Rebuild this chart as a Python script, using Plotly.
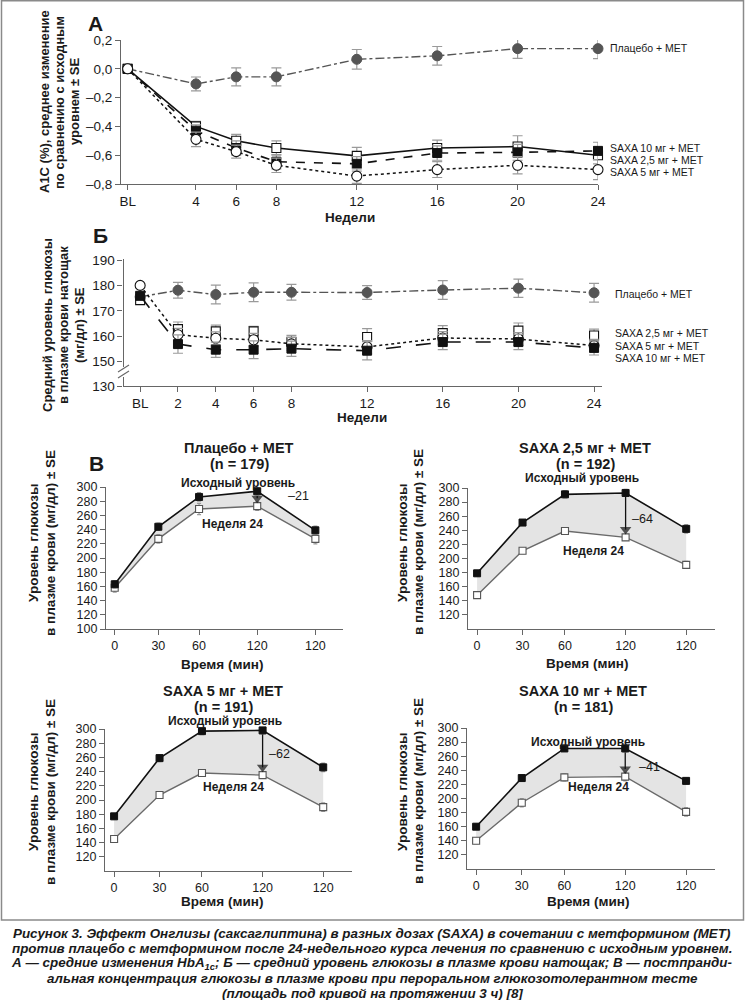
import plotly.graph_objects as go

W, H = 745, 1000

# ---------------- DATA ----------------
# Panel A: mean change in HbA1c (%) from baseline ± SE
weeks_a = [0, 4, 6, 8, 12, 16, 20, 24]          # 0 = BL
week_labels_a = ["BL", "4", "6", "8", "12", "16", "20", "24"]
a_placebo = [0, -0.105, -0.056, -0.056, 0.066, 0.09, 0.14, 0.14]
a_placebo_se = [0, 0.048, 0.063, 0.063, 0.068, 0.065, 0.068, 0.07]
a_saxa25 = [0, -0.40, -0.50, -0.55, -0.605, -0.55, -0.54, -0.60]
a_saxa25_se = [0, 0.035, 0.045, 0.05, 0.06, 0.055, 0.075, 0.06]
a_saxa5 = [0, -0.49, -0.575, -0.67, -0.745, -0.70, -0.67, -0.70]
a_saxa5_se = [0, 0.05, 0.045, 0.05, 0.05, 0.055, 0.06, 0.07]
a_saxa10 = [0, -0.43, -0.55, -0.645, -0.66, -0.585, -0.58, -0.57]
a_saxa10_se = [0, 0.04, 0.05, 0.05, 0.05, 0.05, 0.055, 0.06]
a_yticks = [0.2, 0.0, -0.2, -0.4, -0.6, -0.8]
a_yticklabels = ["0,2", "0,0", "–0,2", "–0,4", "–0,6", "–0,8"]

# Panel B: mean fasting plasma glucose (mg/dl) ± SE
weeks_b = [0, 2, 4, 6, 8, 12, 16, 20, 24]       # 0 = BL
week_labels_b = ["BL", "2", "4", "6", "8", "12", "16", "20", "24"]
b_placebo = [175.5, 178.1, 176.4, 177.3, 177.3, 177.2, 178.2, 178.9, 177.1]
b_placebo_se = [0, 3.1, 3.7, 3.7, 3.1, 2.7, 3.7, 3.6, 3.7]
b_saxa25 = [174.2, 162.8, 161.9, 161.9, 157.8, 159.7, 161.2, 162.2, 160.3]
b_saxa25_se = [0, 2.8, 2.5, 2.0, 2.5, 3.3, 3.0, 3.0, 2.5]
b_saxa5 = [180.0, 160.6, 159.2, 158.6, 157.0, 155.8, 159.3, 158.9, 156.3]
b_saxa5_se = [0, 2.5, 2.5, 2.5, 2.5, 2.5, 2.5, 2.5, 2.5]
b_saxa10 = [175.9, 156.9, 154.7, 154.7, 155.1, 154.3, 157.7, 157.7, 155.4]
b_saxa10_se = [0, 3.6, 3.0, 3.5, 3.0, 3.6, 3.0, 3.0, 2.8]
b_yticks = [150, 160, 170, 180, 190]
b_ytick_break_label = "130"

# Panel C: OGTT plasma glucose (mg/dl) ± SE, baseline vs week 24
ogtt_times = [0, 30, 60, 120, 180]
ogtt_tick_labels = ["0", "30", "60", "120", "120"]
c_groups = ["Плацебо + MET", "SAXA 2,5 мг + MET", "SAXA 5 мг + MET", "SAXA 10 мг + MET"]
c_n = [179, 192, 191, 181]
c_base = [
    [163, 244, 286, 294, 239],
    [179, 251, 291, 293, 242],
    [177, 259, 297, 298, 246],
    [160, 229, 271, 271, 225],
]
c_w24 = [
    [158, 227, 269, 273, 227],
    [148, 211, 239, 230, 191],
    [145, 207, 238, 235, 190],
    [140, 194, 230, 231, 181],
]
c_base_se = [
    [5, 5, 6, 6, 6],
    [4, 4, 5, 5, 6],
    [4, 5, 5, 5, 6],
    [4, 4, 4, 5, 4],
]
c_w24_se = [
    [6, 6, 8, 6, 7],
    [3, 4, 4, 4, 5],
    [4, 4, 4, 4, 6],
    [4, 6, 5, 6, 6],
]
c_changes = ["–21", "–64", "–62", "–41"]
c_yticks_first = [100, 120, 140, 160, 180, 200, 220, 240, 260, 280, 300]
c_yticks_other = [120, 140, 160, 180, 200, 220, 240, 260, 280, 300]

caption_lines = [
    "Рисунок 3. Эффект Онглизы (саксаглиптина) в разных дозах (SAXA) в сочетании с метформином (MET)",
    "против плацебо с метформином после 24-недельного курса лечения по сравнению с исходным уровнем.",
    "А — средние изменения HbA<sub>1c</sub>; Б — средний уровень глюкозы в плазме крови натощак; В — постпранди-",
    "альная концентрация глюкозы в плазме крови при пероральном глюкозотолерантном тесте",
    "(площадь под кривой на протяжении 3 ч) [8]",
]

# ---------------- STYLE / LAYOUT HELPERS ----------------
REG = "Liberation Sans, Arial, sans-serif"
TXT = "#1a1a1a"
AXC = "#666666"
ERRC = "#9a9a9a"


def px(x):
    return x / W


def py(y):
    return 1 - y / H


fig = go.Figure()
annotations = []
shapes = []


def ann(x, y, text, size, family=REG, bold=False, xanchor="center", yanchor="middle",
        angle=0, color=TXT, italic=False):
    t = text
    if italic:
        t = "<i>" + t + "</i>"
    if bold:
        t = "<b>" + t + "</b>"
    annotations.append(dict(
        x=px(x), y=py(y), xref="paper", yref="paper", text=t, showarrow=False,
        xanchor=xanchor, yanchor=yanchor, textangle=angle,
        font=dict(family=family, size=size, color=color)))


def axis_common(**kw):
    d = dict(showline=True, linecolor=AXC, linewidth=1.2, ticks="outside", ticklen=5,
             tickcolor=AXC, tickwidth=1.1, showgrid=False, zeroline=False, fixedrange=True,
             automargin=False)
    d.update(kw)
    return d


def err(se, width=4):
    return dict(type="data", array=se, visible=True, color=ERRC, thickness=1.2, width=width)


# ---------------- PANEL A ----------------
bl_pos_a = 0.6
xa = [bl_pos_a if w == 0 else w for w in weeks_a]

series_a = [
    (a_placebo, a_placebo_se, dict(color="#555555", width=1.4, dash="dashdot"),
     dict(symbol="circle", size=10, color="#555555", line=dict(color="#555555", width=1))),
    (a_saxa25, a_saxa25_se, dict(color="#111111", width=1.6, dash="solid"),
     dict(symbol="square", size=9, color="white", line=dict(color="#111111", width=1.1))),
    (a_saxa10, a_saxa10_se, dict(color="#111111", width=1.6, dash="dash"),
     dict(symbol="square", size=9, color="#111111", line=dict(color="#111111", width=1))),
    (a_saxa5, a_saxa5_se, dict(color="#111111", width=1.5, dash="dot"),
     dict(symbol="circle", size=10, color="white", line=dict(color="#111111", width=1.1))),
]
for vals, se, line, marker in series_a:
    fig.add_trace(go.Scatter(x=xa, y=vals, mode="lines+markers", line=line, marker=marker,
                             error_y=err(se, 5), xaxis="x", yaxis="y", cliponaxis=False,
                             showlegend=False, hoverinfo="skip"))

TICKF = dict(family=REG, size=13.5, color=TXT)
layout_axes = {}
layout_axes["xaxis"] = axis_common(domain=[px(121), px(598)], anchor="y", range=[0.27, 24.0],
                                   tickvals=xa, ticktext=week_labels_a, tickfont=TICKF)
layout_axes["yaxis"] = axis_common(domain=[py(184), py(40)], anchor="x", range=[-0.8, 0.2],
                                   tickvals=a_yticks, ticktext=a_yticklabels, tickfont=TICKF)

ann(95, 23, "А", 21, bold=True)
for txt, x in zip(["A1C (%), среднее изменение", "по сравнению с исходным", "уровнем ± SE"],
                  [45, 60, 75]):
    ann(x, 102, txt, 13, bold=True, angle=-90)
ann(350, 218, "Недели", 13.5, bold=True)
LBL = 10.5
ann(608, 48, "Плацебо + MET", LBL, xanchor="left")
ann(608, 148, "SAXA 10 мг + MET", LBL, xanchor="left")
ann(608, 160, "SAXA 2,5 мг + MET", LBL, xanchor="left")
ann(608, 172, "SAXA 5 мг + MET", LBL, xanchor="left")

# ---------------- PANEL B ----------------
series_b = [
    (b_placebo, b_placebo_se, "lines+markers", dict(color="#555555", width=1.4, dash="dashdot"),
     dict(symbol="circle", size=10, color="#555555", line=dict(color="#555555", width=1))),
    (b_saxa25, b_saxa25_se, "markers", dict(color="#111111", width=1),
     dict(symbol="square", size=9, color="white", line=dict(color="#111111", width=1.1))),
    (b_saxa5, b_saxa5_se, "lines+markers", dict(color="#111111", width=1.5, dash="dot"),
     dict(symbol="circle", size=10, color="white", line=dict(color="#111111", width=1.1))),
    (b_saxa10, b_saxa10_se, "lines+markers", dict(color="#111111", width=1.6, dash="longdash"),
     dict(symbol="square", size=9, color="#111111", line=dict(color="#111111", width=1))),
]
for vals, se, mode, line, marker in series_b:
    fig.add_trace(go.Scatter(x=weeks_b, y=vals, mode=mode, line=line, marker=marker,
                             error_y=err(se, 5), xaxis="x2", yaxis="y2", cliponaxis=False,
                             showlegend=False, hoverinfo="skip"))

b_axis_bottom = 140.4   # display position of the broken-axis "130" tick
layout_axes["xaxis2"] = axis_common(domain=[px(123.5), px(602)], anchor="y2", range=[-0.88, 24.42],
                                    tickvals=weeks_b, ticktext=week_labels_b, tickfont=TICKF)
layout_axes["yaxis2"] = axis_common(domain=[py(386), py(259)], anchor="x2",
                                    range=[b_axis_bottom, 190.4],
                                    tickvals=[b_axis_bottom] + b_yticks,
                                    ticktext=[b_ytick_break_label] + [str(v) for v in b_yticks],
                                    tickfont=TICKF)
# axis break marks
shapes.append(dict(type="rect", xref="paper", yref="paper", x0=px(120), x1=px(127),
                   y0=py(377), y1=py(367), fillcolor="white", line=dict(width=0), layer="above"))
for yo in (0, 6):
    shapes.append(dict(type="line", xref="paper", yref="paper", x0=px(118), x1=px(129),
                       y0=py(372 + yo), y1=py(365 + yo), line=dict(color=AXC, width=1.1),
                       layer="above"))

ann(100, 235, "Б", 21, bold=True)
for txt, x in zip(["Средний уровень глюкозы", "в плазме крови натощак", "(мг/дл) ± SE"],
                  [48, 64, 80]):
    ann(x, 325, txt, 13, bold=True, angle=-90)
ann(362, 418, "Недели", 13.5, bold=True)
ann(613, 294, "Плацебо + MET", LBL, xanchor="left")
ann(613, 333, "SAXA 2,5 мг + MET", LBL, xanchor="left")
ann(613, 346, "SAXA 5 мг + MET", LBL, xanchor="left")
ann(613, 358, "SAXA 10 мг + MET", LBL, xanchor="left")

# ---------------- PANEL C (four OGTT subplots) ----------------
ogtt_xpos = [0, 30, 58, 98, 138]   # display positions of the time ticks
c_xrange = [-6, 157]
c_boxes = [  # (x0, x1, ytop(300), ybottom(100)) in px
    (106, 343, 487, 629),
    (468, 715, 488, 629),
    (105, 352, 729, 871),
    (467, 715, 728, 869),
]
c_text = [
    dict(t=(239, 448), b=(238, 483), w=(232, 524), c=(286, 496), xt=(222, 664), yt=((33, 50), 543)),
    dict(t=(585, 448), b=(582, 478), w=(593, 551), c=(630, 519), xt=(587, 663), yt=((402, 418), 542)),
    dict(t=(223, 691), b=(225, 721), w=(233, 787), c=(267, 754), xt=(222, 901), yt=((33, 50), 792)),
    dict(t=(583, 691), b=(588, 742), w=(598, 787), c=(637, 767), xt=(588, 901), yt=((402, 418), 791)),
]
arrow_head_offset = 11   # arrowhead centre sits this far above the week-24 marker

for i in range(4):
    k = i + 3
    xn, yn = f"x{k}", f"y{k}"
    base, w24 = c_base[i], c_w24[i]
    fig.add_trace(go.Scatter(x=ogtt_xpos, y=w24, mode="lines", line=dict(width=0, color="rgba(0,0,0,0)"),
                             xaxis=xn, yaxis=yn, showlegend=False, hoverinfo="skip"))
    fig.add_trace(go.Scatter(x=ogtt_xpos, y=base, mode="lines", line=dict(width=0, color="rgba(0,0,0,0)"),
                             fill="tonexty", fillcolor="#e4e4e4",
                             xaxis=xn, yaxis=yn, showlegend=False, hoverinfo="skip"))
    fig.add_trace(go.Scatter(x=ogtt_xpos, y=w24, mode="lines+markers",
                             line=dict(color="#6a6a6a", width=1.4),
                             marker=dict(symbol="square", size=7, color="white",
                                         line=dict(color="#555555", width=1.1)),
                             error_y=err(c_w24_se[i], 2), cliponaxis=False,
                             xaxis=xn, yaxis=yn, showlegend=False, hoverinfo="skip"))
    # arrow at 120 min: baseline -> week 24
    fig.add_trace(go.Scatter(x=[ogtt_xpos[3], ogtt_xpos[3]],
                             y=[base[3], w24[3] + arrow_head_offset],
                             mode="lines+markers", line=dict(color="#111111", width=1.3),
                             marker=dict(symbol=["circle", "triangle-down"], size=[0, 10],
                                         color="#111111", line=dict(width=0)),
                             cliponaxis=False, xaxis=xn, yaxis=yn, showlegend=False,
                             hoverinfo="skip"))
    fig.add_trace(go.Scatter(x=ogtt_xpos, y=base, mode="lines+markers",
                             line=dict(color="#111111", width=1.6),
                             marker=dict(symbol="square", size=7, color="#111111",
                                         line=dict(color="#111111", width=1)),
                             error_y=err(c_base_se[i], 2), cliponaxis=False,
                             xaxis=xn, yaxis=yn, showlegend=False, hoverinfo="skip"))
    x0, x1, yt, yb = c_boxes[i]
    yticks = c_yticks_first if i == 0 else c_yticks_other
    layout_axes[f"xaxis{k}"] = axis_common(domain=[px(x0), px(x1)], anchor=yn, range=c_xrange,
                                           tickvals=ogtt_xpos, ticktext=ogtt_tick_labels,
                                           tickfont=dict(family=REG, size=12.5, color=TXT))
    layout_axes[f"yaxis{k}"] = axis_common(domain=[py(yb), py(yt)], anchor=xn, range=[100, 300],
                                           tickvals=yticks, ticktext=[str(v) for v in yticks],
                                           tickfont=dict(family=REG, size=12.5, color=TXT))
    ct = c_text[i]
    ann(ct["t"][0], ct["t"][1], c_groups[i], 14.5, bold=True)
    ann(ct["t"][0], ct["t"][1] + 15.5, f"(n = {c_n[i]})", 14.5, bold=True)
    ann(ct["b"][0], ct["b"][1], "Исходный уровень", 12, bold=True)
    ann(ct["w"][0], ct["w"][1], "Неделя 24", 12, bold=True)
    ann(ct["c"][0], ct["c"][1], c_changes[i], 12.5, xanchor="left")
    ann(ct["xt"][0], ct["xt"][1], "Время (мин)", 13.5, bold=True)
    ann(ct["yt"][0][0], ct["yt"][1], "Уровень глюкозы", 13.5, bold=True, angle=-90)
    ann(ct["yt"][0][1], ct["yt"][1], "в плазме крови (мг/дл) ± SE", 13.5, bold=True, angle=-90)

ann(97, 463, "В", 21, bold=True)

# frame around the figure
shapes.append(dict(type="rect", xref="paper", yref="paper", x0=px(1.5), x1=px(743.5),
                   y0=py(920), y1=py(0.8), line=dict(color="#8a8a8a", width=1.5),
                   fillcolor="rgba(0,0,0,0)", layer="above"))

# caption
for j, line in enumerate(caption_lines):
    ann(372, 933 + j * 15, line, 13.4, bold=True, italic=True)

fig.update_layout(
    width=W, height=H, margin=dict(l=0, r=0, t=0, b=0, pad=0, autoexpand=False),
    paper_bgcolor="white", plot_bgcolor="white",
    showlegend=False, annotations=annotations, shapes=shapes,
    **layout_axes,
)

fig.write_html("out.html", config={"displayModeBar": False},
               post_script="document.body.style.margin='0';")
